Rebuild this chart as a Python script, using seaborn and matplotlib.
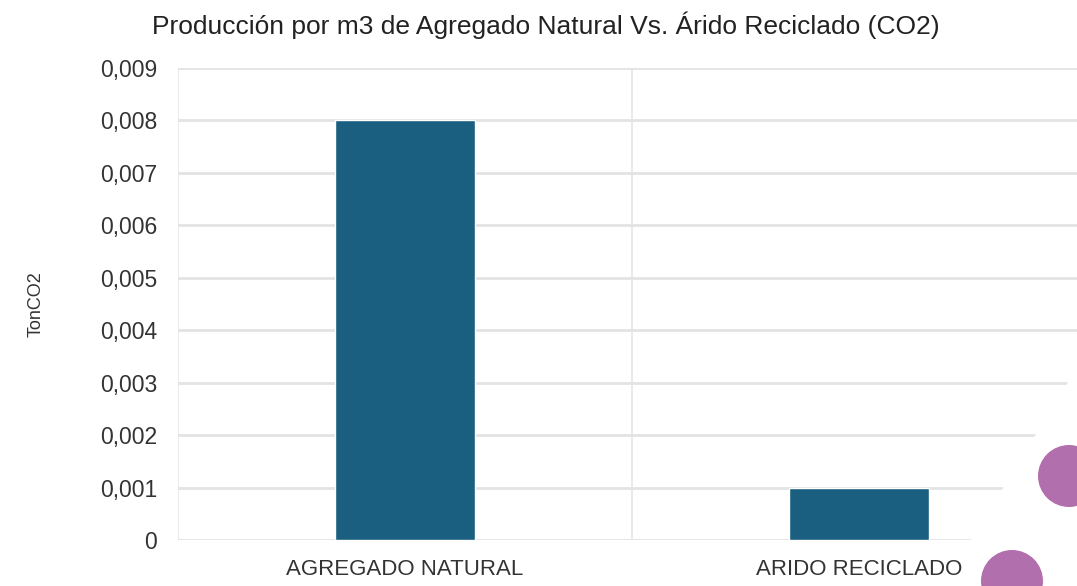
import numpy as np
import pandas as pd
import matplotlib
matplotlib.use("Agg")
import matplotlib.pyplot as plt
import seaborn as sns
from matplotlib.ticker import FuncFormatter, MultipleLocator
from matplotlib.patches import Ellipse, Polygon

# datos
categorias = ["AGREGADO NATURAL", "ARIDO RECICLADO"]
valores = [0.008, 0.001]

df = pd.DataFrame({"categoria": categorias, "ton_co2": valores})

sns.set_theme(style="white")
plt.rcParams["font.family"] = ["Liberation Sans", "DejaVu Sans"]

fig = plt.figure(figsize=(10.77, 5.86), dpi=100, facecolor="white")
W, H = 1077, 586
ax = fig.add_axes([178 / W, (H - 540) / H, (1086 - 178) / W, (540 - 68) / H])

sns.barplot(data=df, x="categoria", y="ton_co2", color="#1a5e80",
            width=0.31, saturation=1, ax=ax, zorder=3)

ax.set_ylim(0, 0.009)
ax.set_xlim(-0.5, 1.5)
ax.yaxis.set_major_locator(MultipleLocator(0.001))
ax.yaxis.set_major_formatter(FuncFormatter(lambda v, p: "0" if v == 0 else f"{v:.3f}".replace(".", ",")))
ax.grid(axis="y", color="#e3e3e3", linewidth=2, zorder=0)
for xv in [-0.5, 0.5, 1.5]:
    ax.axvline(xv, color="#e6e6e6", linewidth=1.2, zorder=0)
for s in ax.spines.values():
    s.set_visible(False)
ax.tick_params(axis="both", length=0, colors="#333333")
ax.tick_params(axis="y", pad=15, labelsize=16.5)
ax.tick_params(axis="x", pad=14, labelsize=16)
ax.set_xlabel("")
ax.set_ylabel("TonCO2", fontsize=13, color="#333333", labelpad=40)

fig.text(546 / W, 1 - 25 / H, "Producción por m3 de Agregado Natural Vs. Árido Reciclado (CO2)",
         ha="center", va="center", fontsize=19, color="#222222")

# decoración de la diapositiva (esquina inferior derecha)
fig.patches.append(Polygon([(973 / W, 1 - 537 / H), (1290 / W, 1 - 20 / H),
                            (1290 / W, 1 - 545 / H), (968 / W, 1 - 545 / H)],
                           closed=True, transform=fig.transFigure, facecolor="white",
                           edgecolor="none", zorder=5))
for cx, cy in [(1069, 476), (1012, 581)]:
    fig.patches.append(Ellipse((cx / W, 1 - cy / H), 62 / W, 62 / H, transform=fig.transFigure,
                               facecolor="#b26fae", edgecolor="none", zorder=6))

fig.savefig("out.png", dpi=100, facecolor="white")
